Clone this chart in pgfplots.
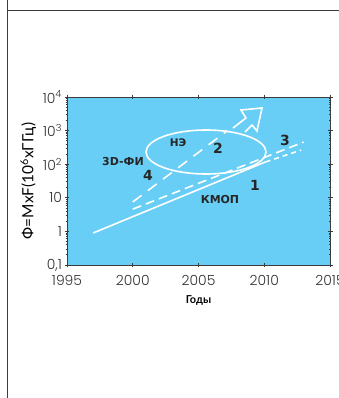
\documentclass[border=0pt]{standalone}
\usepackage{pgfplots}
\pgfplotsset{compat=1.18}
\usepackage{fontspec}
\setmainfont{Lato}
\newfontfamily\tickfont{Poppins Light}
\newfontfamily\lblfont{DejaVu Sans}
\definecolor{skyblue}{RGB}{104,206,245}
\definecolor{framegray}{RGB}{60,60,60}
\begin{document}
\begin{tikzpicture}[x=1bp,y=1bp]
\useasboundingbox (0,0) rectangle (339,398);
\draw[framegray, line width=1bp] (7,0) -- (7,398);
\draw[framegray, line width=0.8bp] (7,388) -- (339,388);
\begin{axis}[
  at={(67bp,133bp)}, anchor=south west,
  width=263bp, height=168bp, scale only axis,
  xmin=1995, xmax=2015,
  ymode=log, ymin=0.1, ymax=10000,
  axis background/.style={fill=skyblue},
  axis line style={framegray, line width=0.9bp},
  xtick={1995,2000,2005,2010,2015},
  xticklabels={1995,2000,2005,2010,2015},
  ytick={0.1,1,10,100,1000,10000},
  yticklabels={{0,1},1,10,10\textsuperscript{2},10\textsuperscript{3},10\textsuperscript{4}},
  minor ytick={},
  tick align=center,
  major tick length=5bp,
  tick style={framegray, line width=0.8bp},
  /pgf/number format/assume math mode=true,
  ticklabel style={font=\tickfont\fontsize{14}{14}\selectfont, text=black!80},
  xticklabel style={yshift=-4bp},
  yticklabel style={xshift=1bp},
  xlabel={Годы},
  xlabel style={font=\fontsize{11}{11}\selectfont\bfseries, yshift=-3bp},
  ylabel={Ф=MxF(10\textsuperscript{6}xГГц)},
  ylabel style={font=\fontsize{15.5}{15.5}\selectfont, yshift=0bp},
  clip=true,
]
% line 1: solid (measured) and dotted (forecast)
\addplot[white, line width=1.6bp] coordinates {(1997,0.9) (2010.1,117)};
\addplot[white, line width=1.6bp, dash pattern=on 5bp off 4bp] coordinates {(2010.1,117) (2012.8,263)};
% line 3: dashed
\addplot[white, line width=1.6bp, dash pattern=on 9bp off 5bp] coordinates {(2000,4.6) (2013,457)};
% line 4: long dashed
\addplot[white, line width=1.6bp, dash pattern=on 11bp off 8bp] coordinates {(2000,7.5) (2007.2,1000)};
\end{axis}
% ellipse (НЭ region) and arrow
\draw[white, line width=1.6bp] (206,246) ellipse [x radius=60, y radius=22];
\draw[white, line width=1.6bp, line join=miter] (233,270) -- (246,280) -- (241,288) -- (262,290) -- (257,267) -- (252,273) -- (245,266);
% labels
\node[font=\lblfont\bfseries\fontsize{10.5}{10.5}\selectfont, text=black!85] at (178,255) {НЭ};
\node[font=\lblfont\bfseries\fontsize{14}{14}\selectfont, text=black!85] at (218,250) {2};
\node[font=\lblfont\bfseries\fontsize{11}{11}\selectfont, text=black!85] at (123,236) {3D-ФИ};
\node[font=\lblfont\bfseries\fontsize{14}{14}\selectfont, text=black!85] at (148,223) {4};
\node[font=\lblfont\bfseries\fontsize{14}{14}\selectfont, text=black!85] at (255,213) {1};
\node[font=\lblfont\bfseries\fontsize{11}{11}\selectfont, text=black!85] at (220,198) {КМОП};
\node[font=\lblfont\bfseries\fontsize{14}{14}\selectfont, text=black!85] at (285,258) {3};
\end{tikzpicture}
\end{document}
